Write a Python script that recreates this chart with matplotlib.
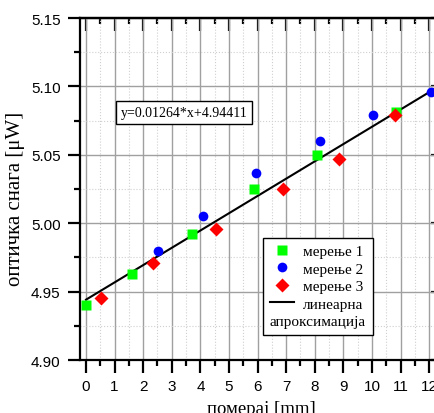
import numpy as np
import matplotlib.pyplot as plt
from matplotlib.lines import Line2D
from matplotlib.ticker import MultipleLocator, FormatStrFormatter

# мерење 1
x1 = [0.0, 1.6, 3.7, 5.87, 8.08, 10.83]
y1 = [4.940, 4.963, 4.992, 5.025, 5.050, 5.081]
# мерење 2
x2 = [2.52, 4.09, 5.94, 8.18, 10.03, 12.06]
y2 = [4.980, 5.005, 5.037, 5.060, 5.079, 5.096]
# мерење 3
x3 = [0.52, 2.34, 4.55, 6.89, 8.85, 10.8]
y3 = [4.945, 4.971, 4.996, 5.025, 5.047, 5.079]

slope = 0.01264
intercept = 4.94411
fit_x = np.array([0.0, 12.5])

serif = 'Liberation Serif'
sans = 'Liberation Sans'

fig = plt.figure(figsize=(4.35, 4.14), dpi=100)
ax = fig.add_axes([0.1839, 0.128, 0.8356, 0.826])

ax.set_xlim(-0.21, 12.5)
ax.set_ylim(4.90, 5.15)

ax.xaxis.set_major_locator(MultipleLocator(1))
ax.xaxis.set_minor_locator(MultipleLocator(0.5))
ax.yaxis.set_major_locator(MultipleLocator(0.05))
ax.yaxis.set_minor_locator(MultipleLocator(0.025))
ax.yaxis.set_major_formatter(FormatStrFormatter('%.2f'))

ax.grid(which='major', color='#a0a0a0', lw=1.0, ls='-', zorder=0)
ax.grid(which='minor', color='#d0d0d0', lw=0.8, ls=':', zorder=0)
ax.set_axisbelow(True)

for s in ax.spines.values():
    s.set_linewidth(1.6)

ax.tick_params(axis='x', which='both', bottom=True, top=False, direction='out', width=1.6)
ax.tick_params(axis='y', which='both', left=True, right=False, direction='out', width=1.6)
ax.tick_params(which='major', length=9)
ax.tick_params(which='minor', length=4.5)
for lab in ax.get_xticklabels() + ax.get_yticklabels():
    lab.set_fontfamily(sans)
ax.tick_params(labelsize=11, pad=5)

# inward ticks on top and right
sec_x = ax.secondary_xaxis('top')
sec_x.xaxis.set_major_locator(MultipleLocator(1))
sec_x.xaxis.set_minor_locator(MultipleLocator(0.5))
sec_x.tick_params(which='both', direction='in', width=1.6, labeltop=False)
sec_x.tick_params(which='major', length=9)
sec_x.tick_params(which='minor', length=4.5)
sec_x.spines['top'].set_linewidth(1.6)
sec_y = ax.secondary_yaxis('right')
sec_y.yaxis.set_major_locator(MultipleLocator(0.05))
sec_y.yaxis.set_minor_locator(MultipleLocator(0.025))
sec_y.tick_params(which='both', direction='in', width=1.6, labelright=False)
sec_y.tick_params(which='major', length=9)
sec_y.tick_params(which='minor', length=4.5)

h1, = ax.plot(x1, y1, 's', color='#00ff00', ms=6.5, mec='none', zorder=3)
h2, = ax.plot(x2, y2, 'o', color='#0000ff', ms=7, mec='none', zorder=3)
h3, = ax.plot(x3, y3, 'D', color='#ff0000', ms=7, mec='none', zorder=3)
h4, = ax.plot(fit_x, slope * fit_x + intercept, color='black', lw=1.5, zorder=2)
h5 = Line2D([], [], alpha=0)

ax.text(3.43, 5.081, 'y=0.01264*x+4.94411', family=serif, fontsize=10,
        ha='center', va='center',
        bbox=dict(boxstyle='square,pad=0.35', fc='white', ec='black', lw=1.0))

leg = ax.legend([h1, h2, h3, h4, h5],
                ['мерење 1', 'мерење 2', 'мерење 3', 'линеарна', 'апроксимација'],
                loc='lower left', bbox_to_anchor=(0.503, 0.073),
                prop={'family': serif, 'size': 11}, fancybox=False,
                framealpha=1, edgecolor='black', handlelength=1.6,
                handletextpad=0.6, borderpad=0.45, labelspacing=0.25,
                borderaxespad=0)
leg.get_frame().set_linewidth(1.0)
# second line of the last label starts at the left edge, under the handle
last_item = leg._legend_handle_box.get_children()[0].get_children()[-1]
last_item.get_children()[0].width = 0
last_item.sep = 0

ax.set_xlabel('померај [mm]', family=serif, fontsize=13.5, labelpad=5)
ax.set_ylabel('оптичка снага [μW]', family=serif, fontsize=15)
ax.yaxis.set_label_coords(-0.15, 0.474)

fig.savefig('out.png', dpi=100)
